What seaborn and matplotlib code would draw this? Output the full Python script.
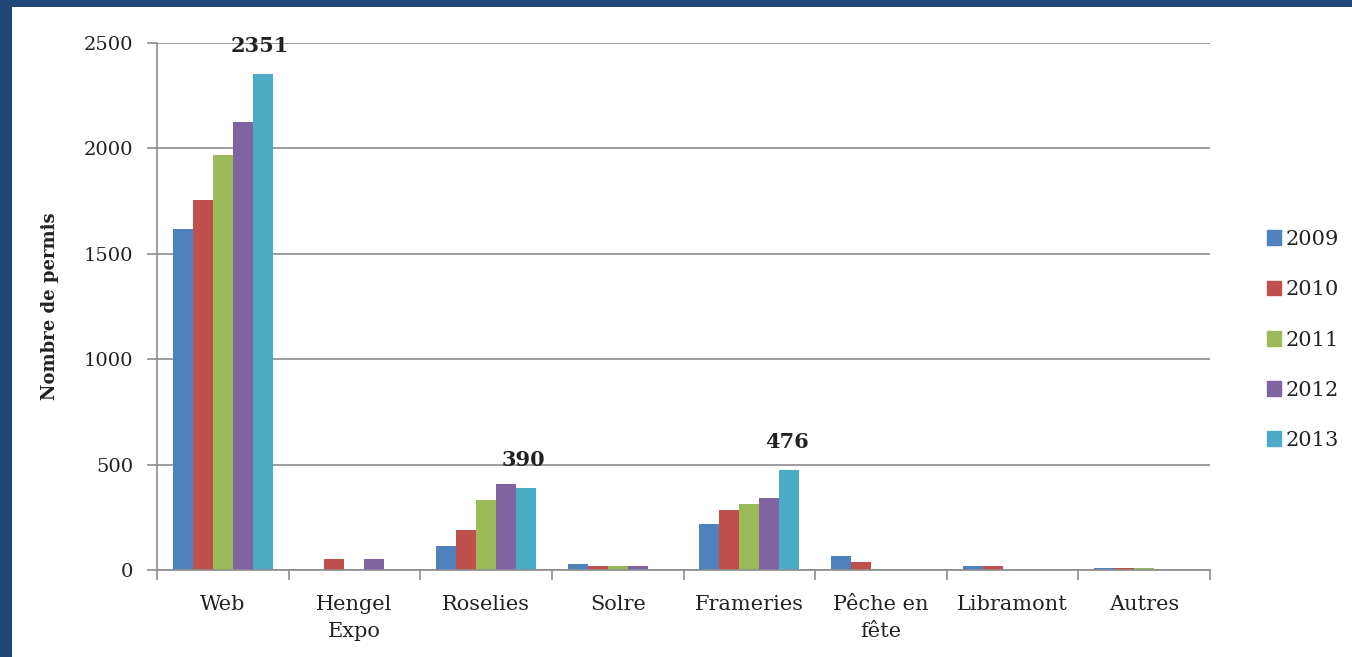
import matplotlib
matplotlib.use("Agg")
import matplotlib.pyplot as plt
import matplotlib.patches as mpatches
import seaborn as sns
import pandas as pd

categories = ["Web", "Hengel\nExpo", "Roselies", "Solre", "Frameries", "Pêche en\nfête", "Libramont", "Autres"]
years = ["2009", "2010", "2011", "2012", "2013"]
v2009 = [1620, 0, 115, 30, 218, 68, 20, 8]
v2010 = [1755, 50, 190, 20, 285, 40, 20, 8]
v2011 = [1970, 0, 332, 20, 313, 6, 0, 8]
v2012 = [2125, 50, 408, 20, 342, 0, 0, 0]
v2013 = [2351, 0, 390, 0, 476, 0, 0, 0]
annotated = {"Web": 2351, "Roselies": 390, "Frameries": 476}
colors = ["#4F81BD", "#C0504D", "#9BBB59", "#8064A2", "#4BACC6"]
yticks = [0, 500, 1000, 1500, 2000, 2500]

series = [v2009, v2010, v2011, v2012, v2013]
rows = []
for y, vals in zip(years, series):
    for c, v in zip(categories, vals):
        rows.append({"cat": c, "year": y, "val": v})
df = pd.DataFrame(rows)

sns.set_theme(style="white")
plt.rcParams["font.family"] = ["DejaVu Serif"]

fig = plt.figure(figsize=(13.52, 6.57), dpi=100)
fig.patch.set_facecolor("#1F4878")
fig.patches.append(mpatches.Rectangle((12 / 1352, 0), 1 - 12 / 1352, 1 - 7 / 657,
                                      transform=fig.transFigure, facecolor="white",
                                      edgecolor="none", zorder=-10))
ax = fig.add_axes([157 / 1352, 1 - 570 / 657, (1210 - 157) / 1352, (570 - 43) / 657])
ax.set_facecolor("none")
ax.set_zorder(5)

sns.barplot(data=df, x="cat", y="val", hue="year", palette=colors, width=0.76,
            saturation=1, gap=0, ax=ax, legend=False, linewidth=0)

ax.set_xlim(-0.5, len(categories) - 0.5)
ax.set_ylim(0, 2500)
ax.set_yticks(yticks)
ax.set_yticklabels([str(t) for t in yticks], fontsize=14, color="#222222")
ax.yaxis.grid(True, color="#8c8c8c", linewidth=1.2)
ax.set_axisbelow(True)

ax.set_xticks(range(len(categories)))
ax.set_xticklabels(categories, fontsize=15, color="#222222", linespacing=1.55)
ax.tick_params(axis="x", which="major", length=0, pad=18)
ax.set_xticks([i - 0.5 for i in range(len(categories) + 1)], minor=True)
ax.tick_params(axis="x", which="minor", length=7, width=1.2, color="#8c8c8c", bottom=True)
ax.tick_params(axis="y", length=7, width=1.2, color="#8c8c8c", left=True, pad=10)

for s in ["top", "right"]:
    ax.spines[s].set_visible(False)
for s in ["left", "bottom"]:
    ax.spines[s].set_color("#8c8c8c")
    ax.spines[s].set_linewidth(1.2)

ax.set_xlabel("")
ax.set_ylabel("Nombre de permis", fontsize=13, fontweight="bold", color="#222222", labelpad=18)

# annotate the 2013 bar values
last = ax.containers[-1]
for i, c in enumerate(categories):
    if c in annotated:
        bar = last[i]
        ax.annotate(str(annotated[c]), (bar.get_x() + bar.get_width() / 2 - 0.02, bar.get_height()),
                    xytext=(0, 13), textcoords="offset points", ha="center", va="bottom",
                    fontsize=15, fontweight="bold", color="#222222", annotation_clip=False)

handles = [mpatches.Patch(color=col, label=y) for col, y in zip(colors, years)]
fig.legend(handles=handles, loc="center left", bbox_to_anchor=(1248 / 1352, 1 - 340 / 657),
           frameon=False, fontsize=15, labelspacing=1.5, handlelength=0.7, handleheight=0.7,
           handletextpad=0.2, labelcolor="#222222")

fig.savefig("out.png", dpi=100, facecolor=fig.get_facecolor())
